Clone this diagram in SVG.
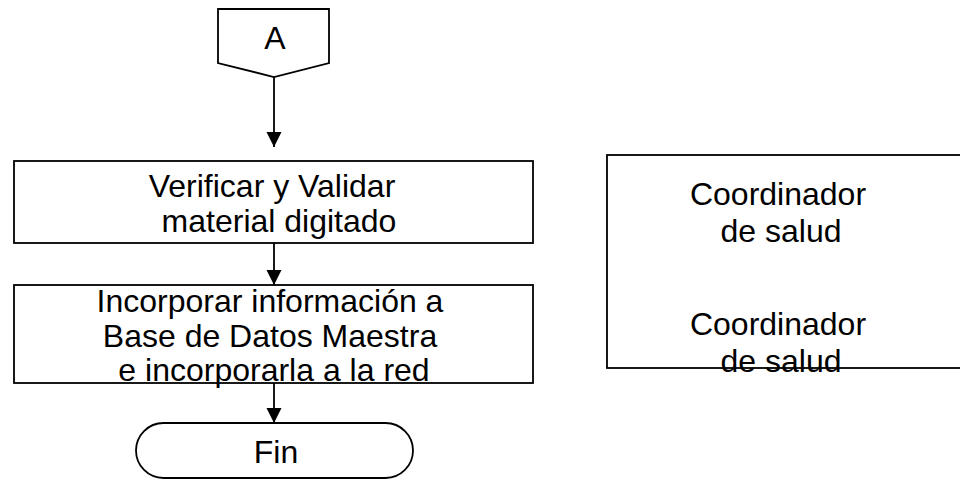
<svg xmlns="http://www.w3.org/2000/svg" width="960" height="480" viewBox="0 0 960 480">
<defs>
<style>
.shape{fill:#fff;stroke:#000;stroke-width:1.8}
.line{fill:none;stroke:#000;stroke-width:1.8}
.t{font-family:"Liberation Sans",Arial,sans-serif;font-size:32px;fill:#000;text-anchor:middle}
</style>
<marker id="arr" markerWidth="15" markerHeight="16" refX="15" refY="7.5" orient="auto" markerUnits="userSpaceOnUse" viewBox="0 0 15 15">
<path d="M0,0 L15,7.5 L0,15 Z" fill="#000"/>
</marker>
</defs>
<rect width="960" height="480" fill="#fff"/>
<g id="connectors">
<line class="line" x1="274" y1="77" x2="274" y2="147" marker-end="url(#arr)"/>
<line class="line" x1="274" y1="243" x2="274" y2="285" marker-end="url(#arr)"/>
<line class="line" x1="274" y1="383" x2="274" y2="423" marker-end="url(#arr)"/>
</g>
<g id="connectorA">
<path class="shape" d="M218,9 H329 V63 L274,77 L218,63 Z"/>
<text class="t" x="275" y="49">A</text>
</g>
<g id="verificar">
<rect class="shape" x="14" y="161" width="519" height="82"/>
<text class="t" x="272" y="197">Verificar y Validar</text>
<text class="t" x="279" y="232">material digitado</text>
</g>
<g id="incorporar">
<rect class="shape" x="14" y="285" width="519" height="98"/>
<text class="t" x="270" y="312">Incorporar información a</text>
<text class="t" x="270" y="347">Base de Datos Maestra</text>
<text class="t" x="274" y="381">e incorporarla a la red</text>
</g>
<g id="fin">
<rect class="shape" x="136" y="423" width="277" height="55" rx="27.5" ry="27.5"/>
<text class="t" x="276" y="463">Fin</text>
</g>
<g id="coordinador">
<rect class="shape" x="607" y="155" width="360" height="213"/>
<text class="t" x="778" y="205">Coordinador</text>
<text class="t" x="781" y="242">de salud</text>
<text class="t" x="778" y="335">Coordinador</text>
<text class="t" x="781" y="372">de salud</text>
</g>
</svg>
